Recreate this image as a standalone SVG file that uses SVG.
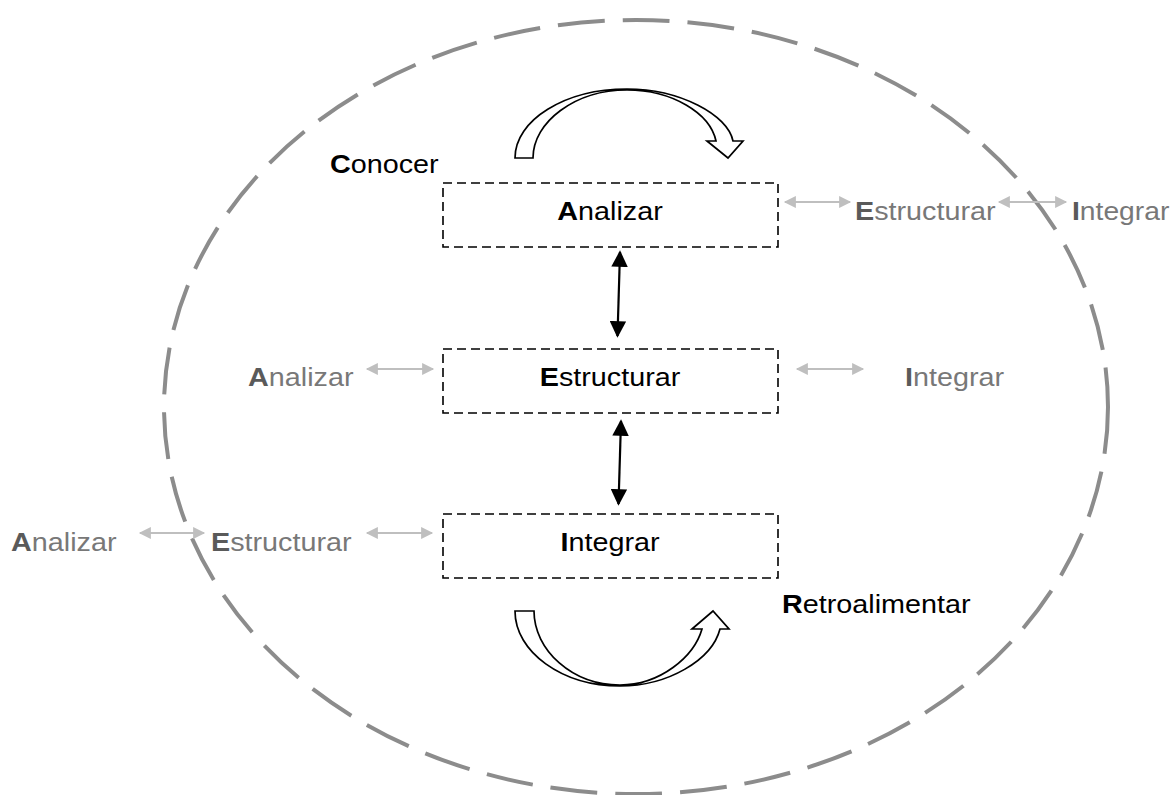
<svg xmlns="http://www.w3.org/2000/svg" width="1172" height="795" viewBox="0 0 1172 795">
  <style>
    .lbl { font-family: "Liberation Sans", Arial, sans-serif; font-size: 25px; }
    .dark { fill: #000000; }
    .grey { fill: #787878; }
    .grey .b { fill: #5a5a5a; }
    .b { font-weight: bold; }
    .box { fill: #ffffff; stroke: #000000; stroke-width: 1.6; stroke-dasharray: 9 5; }
    .link { stroke: #000000; stroke-width: 2.2; fill: none; marker-start: url(#headBlack); marker-end: url(#headBlack); }
    .side { stroke: #bfbfbf; stroke-width: 2.2; fill: none; marker-start: url(#headGrey); marker-end: url(#headGrey); }
    .turn { fill: #ffffff; stroke: #000000; stroke-width: 1.7; stroke-linejoin: miter; }
  </style>
  <defs>
    <marker id="headBlack" viewBox="0 0 10 10" refX="9" refY="5" markerWidth="7.5" markerHeight="7.5" orient="auto-start-reverse" markerUnits="strokeWidth">
      <path d="M0,0 L10,5 L0,10 Z" fill="#000000"/>
    </marker>
    <marker id="headGrey" viewBox="0 0 10 10" refX="9" refY="5" markerWidth="6.5" markerHeight="5.5" orient="auto-start-reverse" markerUnits="strokeWidth">
      <path d="M0,0 L10,5 L0,10 Z" fill="#bfbfbf"/>
    </marker>
  </defs>

  <rect width="1172" height="795" fill="#ffffff"/>

  <!-- outer dashed boundary -->
  <ellipse id="boundary" cx="636" cy="407" rx="472" ry="387" fill="none" stroke="#8c8c8c" stroke-width="4" stroke-dasharray="47 18"/>

  <!-- curved arrows: band narrows where outer and inner edges meet -->
  <g id="turn-top">
    <path class="turn" d="M515,158 C515,120 565,89 627,89 C680,89 728,115 733,141 L743,141 L728,158 L707,141 L716,141 C710,113 672,90 627,90 C575,90 533,122 533,158 Z"/>
  </g>
  <g id="turn-bottom">
    <path class="turn" d="M515,611 C515,652 562,686 620,686 C668,686 712,660 720,629 L729,629 L713,611 L692,629 L702,629 C694,657 660,685 620,685 C572,685 534,650 534,611 Z"/>
  </g>

  <!-- connectors -->
  <g id="connectors">
    <line class="link" x1="620" y1="252" x2="617.5" y2="336"/>
    <line class="link" x1="621" y1="421" x2="618.5" y2="504"/>
    <line class="side" x1="785" y1="202" x2="850" y2="202"/>
    <line class="side" x1="999" y1="202" x2="1066" y2="202"/>
    <line class="side" x1="367" y1="369" x2="433" y2="369"/>
    <line class="side" x1="797" y1="369" x2="863" y2="369"/>
    <line class="side" x1="140" y1="533" x2="204" y2="533"/>
    <line class="side" x1="367" y1="533" x2="432" y2="533"/>
  </g>

  <!-- main stages -->
  <g id="stage-analizar">
    <rect class="box" x="443" y="183" width="335" height="64"/>
    <text class="lbl dark" text-anchor="middle" transform="translate(610,220) scale(1.15,1)"><tspan class="b">A</tspan>nalizar</text>
  </g>
  <g id="stage-estructurar">
    <rect class="box" x="443" y="349" width="335" height="64"/>
    <text class="lbl dark" text-anchor="middle" transform="translate(610,386) scale(1.15,1)"><tspan class="b">E</tspan>structurar</text>
  </g>
  <g id="stage-integrar">
    <rect class="box" x="443" y="514" width="335" height="64"/>
    <text class="lbl dark" text-anchor="middle" transform="translate(610,551) scale(1.15,1)"><tspan class="b">I</tspan>ntegrar</text>
  </g>

  <!-- cycle labels -->
  <g id="label-conocer">
    <text class="lbl dark" transform="translate(330,173) scale(1.15,1)"><tspan class="b">C</tspan>onocer</text>
  </g>
  <g id="label-retroalimentar">
    <text class="lbl dark" transform="translate(782,613) scale(1.15,1)"><tspan class="b">R</tspan>etroalimentar</text>
  </g>

  <!-- side labels -->
  <g id="side-row1-estructurar">
    <text class="lbl grey" transform="translate(855,220) scale(1.15,1)"><tspan class="b">E</tspan>structurar</text>
  </g>
  <g id="side-row1-integrar">
    <text class="lbl grey" transform="translate(1072,220) scale(1.13,1)"><tspan class="b">I</tspan>ntegrar</text>
  </g>
  <g id="side-row2-analizar">
    <text class="lbl grey" transform="translate(248,386) scale(1.15,1)"><tspan class="b">A</tspan>nalizar</text>
  </g>
  <g id="side-row2-integrar">
    <text class="lbl grey" transform="translate(905,386) scale(1.15,1)"><tspan class="b">I</tspan>ntegrar</text>
  </g>
  <g id="side-row3-analizar">
    <text class="lbl grey" transform="translate(11,551) scale(1.15,1)"><tspan class="b">A</tspan>nalizar</text>
  </g>
  <g id="side-row3-estructurar">
    <text class="lbl grey" transform="translate(211,551) scale(1.15,1)"><tspan class="b">E</tspan>structurar</text>
  </g>
</svg>
